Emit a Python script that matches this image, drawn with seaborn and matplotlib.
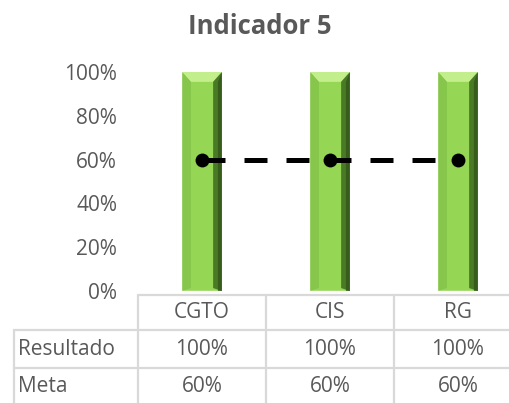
import matplotlib.pyplot as plt
import seaborn as sns
import pandas as pd
from matplotlib.patches import Polygon
from matplotlib.lines import Line2D
from matplotlib.ticker import PercentFormatter

categories = ["CGTO", "CIS", "RG"]
resultado = [1.00, 1.00, 1.00]
meta = [0.60, 0.60, 0.60]
row_names = ["Resultado", "Meta"]

TEXT = "#595959"
GRID = "#d9d9d9"
FS = 15

sns.set_theme(style="white")
plt.rcParams["font.family"] = ["Open Sans", "DejaVu Sans"]

df = pd.DataFrame({"cat": categories, "Resultado": resultado, "Meta": meta})

fig = plt.figure(figsize=(5.10, 4.03), dpi=100)
ax = fig.add_axes([138 / 510, 1 - 291 / 403, 384 / 510, 219 / 403])

sns.barplot(data=df, x="cat", y="Resultado", color="#95d655", width=0.31,
            saturation=1, ax=ax, zorder=2)

# bevel shading on each bar
for p in ax.patches:
    x0, y0, w, h = p.get_x(), p.get_y(), p.get_width(), p.get_height()
    x1, y1 = x0 + w, y0 + h
    ix = w * 0.22
    iy = 0.045
    faces = [
        ([(x0, y1), (x1, y1), (x1 - ix, y1 - iy), (x0 + ix, y1 - iy)], "#c3ee8c"),
        ([(x1, y1), (x1, y0), (x1 - ix, y0 + iy * 0.3), (x1 - ix, y1 - iy)], "#4a7a26"),
        ([(x0, y1), (x0, y0), (x0 + ix, y0 + iy * 0.3), (x0 + ix, y1 - iy)], "#86c64a"),
    ]
    for pts, col in faces:
        ax.add_patch(Polygon(pts, closed=True, facecolor=col, edgecolor="none", zorder=3))
    ax.add_patch(Polygon([(x1 - ix * 0.45, y1 - iy), (x1, y1), (x1, y0), (x1 - ix * 0.45, y0)],
                         closed=True, facecolor="#2f5216", edgecolor="none", zorder=3, alpha=0.7))

sns.lineplot(x=range(len(categories)), y=meta, ax=ax, color="black", lw=3.6,
             marker="o", markersize=10, markeredgewidth=0, zorder=5)
ax.lines[-1].set_dashes([4.6, 3.8])

ax.set_xlim(-0.5, 2.5)
ax.set_ylim(0, 1)
ax.set_yticks([0, 0.2, 0.4, 0.6, 0.8, 1.0])
ax.yaxis.set_major_formatter(PercentFormatter(1.0, decimals=0))
ax.tick_params(axis="y", length=0, pad=15, labelsize=FS, labelcolor=TEXT)
ax.set_xticks([])
ax.set_xlabel("")
ax.set_ylabel("")
for s in ax.spines.values():
    s.set_visible(False)

fig.suptitle("Indicador 5", x=0.51, y=1 - 26 / 403, va="center",
             fontsize=18.5, fontweight="bold", color=TEXT)

# data table under the chart
tr = ax.get_xaxis_transform()
label_w = 124 / 128
left = -0.5 - label_w
lines_y = [-0.018, -0.178, -0.352, -0.525]
rows_y = [-0.096, -0.265, -0.438]

kw = dict(transform=tr, color=GRID, lw=1.6, clip_on=False)
ax.add_line(Line2D([-0.5, 2.5], [lines_y[0]] * 2, **kw))
for yy in lines_y[1:]:
    ax.add_line(Line2D([left, 2.5], [yy] * 2, **kw))
for i in range(len(categories)):
    ax.add_line(Line2D([i - 0.5] * 2, [lines_y[0], lines_y[-1]], **kw))
ax.add_line(Line2D([left] * 2, [lines_y[1], lines_y[-1]], **kw))

for i, c in enumerate(categories):
    ax.text(i, rows_y[0], c, transform=tr, ha="center", va="center",
            fontsize=FS, color=TEXT)
    ax.text(i, rows_y[1], f"{resultado[i]:.0%}", transform=tr, ha="center",
            va="center", fontsize=FS, color=TEXT)
    ax.text(i, rows_y[2], f"{meta[i]:.0%}", transform=tr, ha="center",
            va="center", fontsize=FS, color=TEXT)
for name, yy in zip(row_names, rows_y[1:]):
    ax.text(left + 0.03, yy, name, transform=tr, ha="left", va="center",
            fontsize=FS, color=TEXT)

fig.savefig("out.png", dpi=100)
